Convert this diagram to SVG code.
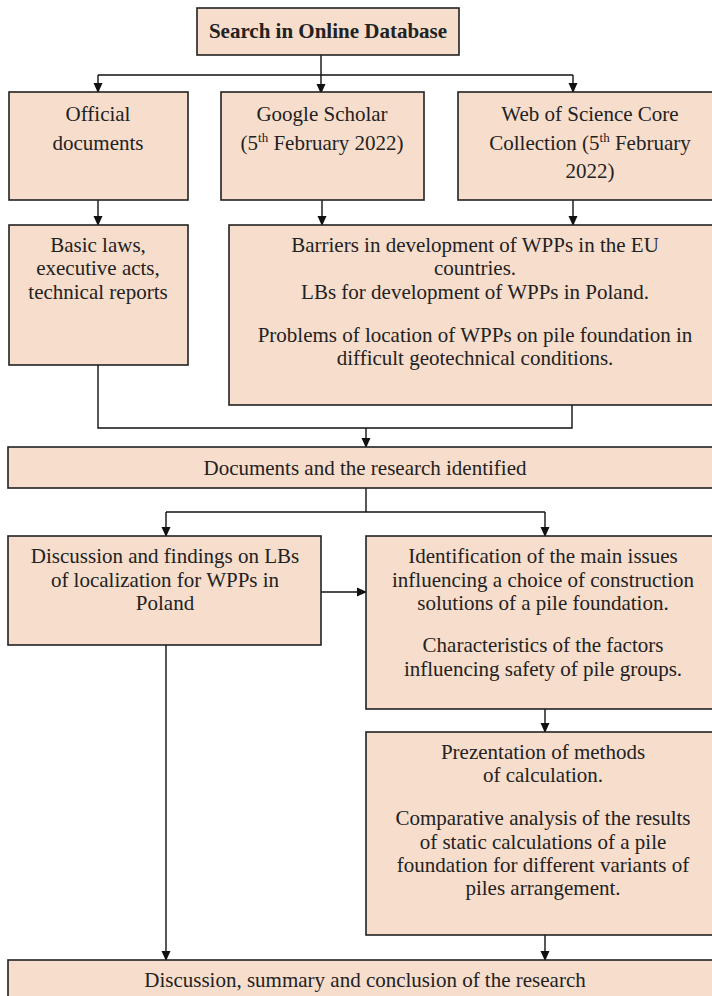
<svg xmlns="http://www.w3.org/2000/svg" width="712" height="996" viewBox="0 0 712 996">
<style>
.box{fill:#F7DDCC;stroke:#222;stroke-width:1.6}
.t{font-family:"Liberation Serif","Times New Roman",serif;font-size:21px;fill:#222;text-anchor:middle}
.b{font-weight:bold}
.c{fill:none;stroke:#111;stroke-width:1.4}
.sup{font-size:13px}
</style>
<defs>
<marker id="ah" markerWidth="10" markerHeight="10" refX="9" refY="5" orient="auto" markerUnits="userSpaceOnUse">
<path d="M0,0.5 L10,5 L0,9.5 Z" fill="#111"/>
</marker>
</defs>
<rect width="712" height="996" fill="#fff"/>
<g id="connectors">
<path class="c" d="M321,55 V93" marker-end="url(#ah)"/>
<path class="c" d="M98,75 H573"/>
<path class="c" d="M98,75 V92" marker-end="url(#ah)"/>
<path class="c" d="M573,75 V92" marker-end="url(#ah)"/>
<path class="c" d="M98,200 V225" marker-end="url(#ah)"/>
<path class="c" d="M322,200 V225" marker-end="url(#ah)"/>
<path class="c" d="M573,200 V225" marker-end="url(#ah)"/>
<path class="c" d="M98,365 V428 H572 V405"/>
<path class="c" d="M366,428 V447" marker-end="url(#ah)"/>
<path class="c" d="M366,488 V512"/>
<path class="c" d="M166,512 H545"/>
<path class="c" d="M166,512 V536" marker-end="url(#ah)"/>
<path class="c" d="M545,512 V536" marker-end="url(#ah)"/>
<path class="c" d="M321,592 H366" marker-end="url(#ah)"/>
<path class="c" d="M545,709 V732" marker-end="url(#ah)"/>
<path class="c" d="M545,935 V960" marker-end="url(#ah)"/>
<path class="c" d="M166,645 V960" marker-end="url(#ah)"/>
</g>
<g id="search">
<rect class="box" x="197" y="8" width="262" height="47"/>
<text class="t b" x="328" y="38">Search in Online Database</text>
</g>
<g id="official">
<rect class="box" x="9" y="92" width="179" height="108"/>
<text class="t" x="98" y="121">Official</text>
<text class="t" x="98" y="150">documents</text>
</g>
<g id="scholar">
<rect class="box" x="221" y="92" width="203" height="108"/>
<text class="t" x="322" y="121">Google Scholar</text>
<text class="t" x="322" y="150">(5<tspan class="sup" dy="-8">th</tspan><tspan dy="8"> February 2022)</tspan></text>
</g>
<g id="wos">
<rect class="box" x="458" y="92" width="264" height="108"/>
<text class="t" x="590" y="121">Web of Science Core</text>
<text class="t" x="590" y="150">Collection (5<tspan class="sup" dy="-8">th</tspan><tspan dy="8"> February</tspan></text>
<text class="t" x="590" y="178">2022)</text>
</g>
<g id="laws">
<rect class="box" x="9" y="225" width="179" height="140"/>
<text class="t" x="98" y="252">Basic laws,</text>
<text class="t" x="98" y="275">executive acts,</text>
<text class="t" x="98" y="299">technical reports</text>
</g>
<g id="barriers">
<rect class="box" x="229" y="225" width="493" height="180"/>
<text class="t" x="475" y="252">Barriers in development of WPPs in the EU</text>
<text class="t" x="475" y="275">countries.</text>
<text class="t" x="475" y="299">LBs for development of WPPs in Poland.</text>
<text class="t" x="475" y="342">Problems of location of WPPs on pile foundation in</text>
<text class="t" x="475" y="365">difficult geotechnical conditions.</text>
</g>
<g id="documents">
<rect class="box" x="8" y="447" width="714" height="41"/>
<text class="t" x="365" y="475">Documents and the research identified</text>
</g>
<g id="findings">
<rect class="box" x="8" y="536" width="313" height="109"/>
<text class="t" x="165" y="563">Discussion and findings on LBs</text>
<text class="t" x="165" y="587">of localization for WPPs in</text>
<text class="t" x="165" y="610">Poland</text>
</g>
<g id="issues">
<rect class="box" x="366" y="536" width="356" height="173"/>
<text class="t" x="543" y="563">Identification of the main issues</text>
<text class="t" x="543" y="587">influencing a choice of construction</text>
<text class="t" x="543" y="610">solutions of a pile foundation.</text>
<text class="t" x="543" y="652">Characteristics of the factors</text>
<text class="t" x="543" y="676">influencing safety of pile groups.</text>
</g>
<g id="methods">
<rect class="box" x="366" y="732" width="356" height="203"/>
<text class="t" x="543" y="759">Prezentation of methods</text>
<text class="t" x="543" y="782">of calculation.</text>
<text class="t" x="543" y="825">Comparative analysis of the results</text>
<text class="t" x="543" y="849">of static calculations of a pile</text>
<text class="t" x="543" y="872">foundation for different variants of</text>
<text class="t" x="543" y="895">piles arrangement.</text>
</g>
<g id="conclusion">
<rect class="box" x="8" y="960" width="714" height="50"/>
<text class="t" x="365" y="987">Discussion, summary and conclusion of the research</text>
</g>
</svg>
